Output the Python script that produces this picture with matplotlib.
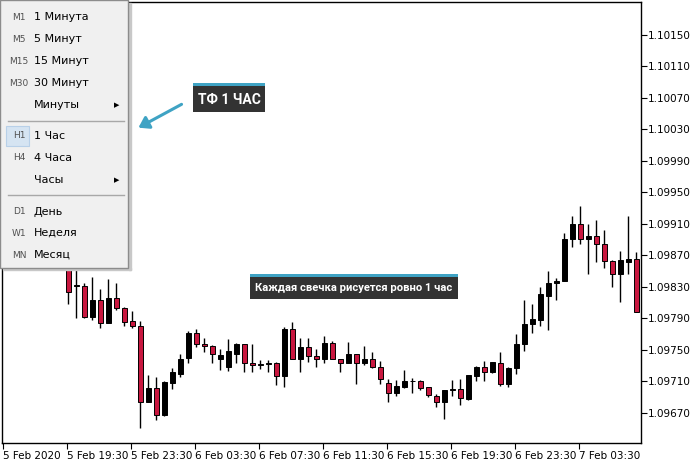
import matplotlib
matplotlib.use("Agg")
import matplotlib.pyplot as plt
from matplotlib.patches import Rectangle, FancyArrowPatch
import numpy as np

# hourly candles, index 8..79 (the first ones sit behind the menu)
first_idx = 8
opens = [1.09854, 1.09831, 1.09831, 1.09792, 1.09814, 1.09784, 1.09816, 1.09803, 1.09787, 1.09780,
         1.09684, 1.09702, 1.09667, 1.09708, 1.09720, 1.09740, 1.09772, 1.09758, 1.09755, 1.09739,
         1.09729, 1.09745, 1.09757, 1.09734, 1.09731, 1.09732, 1.09734, 1.09717, 1.09777, 1.09739,
         1.09754, 1.09742, 1.09738, 1.09759, 1.09739, 1.09734, 1.09745, 1.09734, 1.09739, 1.09728,
         1.09708, 1.09696, 1.09703, 1.09710, 1.09711, 1.09703, 1.09692, 1.09684, 1.09699, 1.09700,
         1.09688, 1.09717, 1.09728, 1.09722, 1.09734, 1.09707, 1.09727, 1.09757, 1.09783, 1.09788,
         1.09819, 1.09835, 1.09837, 1.09891, 1.09910, 1.09891, 1.09895, 1.09885, 1.09863, 1.09846,
         1.09862, 1.09866]
highs = [1.09862, 1.09857, 1.09835, 1.09843, 1.09827, 1.09840, 1.09835, 1.09805, 1.09800, 1.09787,
         1.09718, 1.09716, 1.09710, 1.09727, 1.09745, 1.09774, 1.09777, 1.09765, 1.09756, 1.09751,
         1.09764, 1.09759, 1.09758, 1.09757, 1.09737, 1.09737, 1.09735, 1.09779, 1.09785, 1.09765,
         1.09765, 1.09751, 1.09768, 1.09761, 1.09739, 1.09760, 1.09745, 1.09755, 1.09747, 1.09736,
         1.09713, 1.09712, 1.09725, 1.09715, 1.09712, 1.09703, 1.09694, 1.09699, 1.09712, 1.09713,
         1.09718, 1.09730, 1.09736, 1.09735, 1.09748, 1.09728, 1.09770, 1.09813, 1.09808, 1.09830,
         1.09850, 1.09841, 1.09899, 1.09920, 1.09933, 1.09910, 1.09915, 1.09902, 1.09864, 1.09876,
         1.09920, 1.09874]
lows = [1.09808, 1.09791, 1.09791, 1.09788, 1.09778, 1.09784, 1.09801, 1.09781, 1.09778, 1.09651,
        1.09684, 1.09661, 1.09666, 1.09701, 1.09716, 1.09734, 1.09754, 1.09748, 1.09733, 1.09724,
        1.09723, 1.09733, 1.09722, 1.09722, 1.09726, 1.09722, 1.09706, 1.09703, 1.09738, 1.09722,
        1.09735, 1.09729, 1.09734, 1.09739, 1.09722, 1.09733, 1.09707, 1.09731, 1.09727, 1.09707,
        1.09684, 1.09692, 1.09702, 1.09695, 1.09699, 1.09690, 1.09678, 1.09662, 1.09691, 1.09680,
        1.09687, 1.09710, 1.09710, 1.09721, 1.09704, 1.09703, 1.09719, 1.09749, 1.09771, 1.09780,
        1.09775, 1.09813, 1.09837, 1.09881, 1.09885, 1.09847, 1.09862, 1.09854, 1.09830, 1.09811,
        1.09847, 1.09798]
closes = [1.09824, 1.09832, 1.09792, 1.09814, 1.09784, 1.09816, 1.09803, 1.09786, 1.09780, 1.09684,
          1.09702, 1.09667, 1.09709, 1.09722, 1.09739, 1.09772, 1.09757, 1.09755, 1.09745, 1.09744,
          1.09749, 1.09757, 1.09734, 1.09731, 1.09732, 1.09734, 1.09717, 1.09777, 1.09738, 1.09754,
          1.09742, 1.09739, 1.09759, 1.09739, 1.09734, 1.09745, 1.09734, 1.09739, 1.09728, 1.09713,
          1.09696, 1.09704, 1.09711, 1.09711, 1.09702, 1.09693, 1.09684, 1.09699, 1.09700, 1.09689,
          1.09718, 1.09728, 1.09722, 1.09735, 1.09707, 1.09727, 1.09758, 1.09783, 1.09789, 1.09821,
          1.09835, 1.09838, 1.09891, 1.09910, 1.09891, 1.09895, 1.09885, 1.09863, 1.09847, 1.09864,
          1.09866, 1.09798]

price_ticks = [1.09670, 1.09710, 1.09750, 1.09790, 1.09830, 1.09870, 1.09910,
               1.09950, 1.09990, 1.10030, 1.10070, 1.10110, 1.10150]
time_labels = ["5 Feb 2020", "5 Feb 19:30", "5 Feb 23:30", "6 Feb 03:30", "6 Feb 07:30",
               "6 Feb 11:30", "6 Feb 15:30", "6 Feb 19:30", "6 Feb 23:30", "7 Feb 03:30"]
bars_per_label = 8

menu_codes = ["M1", "M5", "M15", "M30", "", "H1", "H4", "", "D1", "W1", "MN"]
menu_items = ["1 Минута", "5 Минут", "15 Минут", "30 Минут", "Минуты",
              "1 Час", "4 Часа", "Часы", "День", "Неделя", "Месяц"]

BULL = "#000000"
BEAR = "#c8173f"
TEAL = "#3fa3c4"
W, H = 690, 463
CALLOUT_FONT = ["Roboto", "DejaVu Sans"]

fig = plt.figure(figsize=(W / 100, H / 100), dpi=100)
ax = fig.add_axes([2 / W, (H - 443) / H, (641 - 2) / W, (443 - 2) / H])

o = np.array(opens)
c = np.array(closes)
idx = np.arange(first_idx, first_idx + len(o))
up = c >= o
colors = np.where(up, BULL, BEAR)

ax.vlines(idx, lows, highs, color="black", linewidth=1, zorder=2)
bottoms = np.minimum(o, c)
heights = np.maximum(np.abs(c - o), 0.00001)
ax.bar(idx, heights, bottom=bottoms, width=0.6, color=colors,
       edgecolor="black", linewidth=0.7, zorder=3)

ax.set_xlim(-0.29, 79.6)
ax.set_ylim(1.096319, 1.101919)

ax.yaxis.tick_right()
ax.set_yticks(price_ticks)
ax.set_yticklabels([f"{p:.5f}" for p in price_ticks])
ax.tick_params(axis="y", direction="out", length=4, width=0.8, pad=1, labelsize=7.5)

tick_pos = [bars_per_label * j - 0.2 for j in range(len(time_labels))]
ax.set_xticks(tick_pos)
ax.set_xticklabels(time_labels, ha="left")
ax.tick_params(axis="x", direction="out", length=4, width=0.8, pad=2, labelsize=7.5)

for s in ax.spines.values():
    s.set_linewidth(1)
    s.set_color("black")

# overlay in pixel coordinates for the menu and callouts
ov = fig.add_axes([0, 0, 1, 1], zorder=10)
ov.set_xlim(0, W)
ov.set_ylim(H, 0)
ov.axis("off")
ov.patch.set_alpha(0)

# timeframe menu
ov.add_patch(Rectangle((129, 3), 2, 267, color="#c8c8c8", zorder=1))
ov.add_patch(Rectangle((3, 268), 128, 2, color="#c8c8c8", zorder=1))
ov.add_patch(Rectangle((0, 0), 128, 268, facecolor="#f0f0f0",
                       edgecolor="#8c8c8c", linewidth=1, zorder=2))

row_y = [17, 39, 61, 83, 105, 136, 158, 180, 212, 233, 255]
for code, item, y in zip(menu_codes, menu_items, row_y):
    if code == "H1":
        ov.add_patch(Rectangle((6, y - 10), 23, 20, facecolor="#d5e4f2",
                               edgecolor="#b8d0e8", linewidth=0.8, zorder=3))
    if code:
        ov.text(19, y, code, fontsize=6.5, color="#505050", ha="center",
                va="center", zorder=4)
    ov.text(34, y, item, fontsize=8, color="black", ha="left", va="center", zorder=4)
    if item in ("Минуты", "Часы"):
        ov.text(117, y, "▶", fontsize=5, color="black", ha="center",
                va="center", zorder=4)
for y in (121, 195):
    ov.plot([8, 124], [y, y], color="#a8a8a8", linewidth=1, zorder=3)

# callout: timeframe
ov.add_patch(Rectangle((193, 86), 72, 26, facecolor="#333333", zorder=3))
ov.add_patch(Rectangle((193, 83), 72, 3, facecolor=TEAL, zorder=3))
ov.text(229, 99.5, "ТФ 1 ЧАС", color="white", fontsize=10, fontweight="bold",
        ha="center", va="center", family=CALLOUT_FONT, zorder=4)
ov.add_patch(FancyArrowPatch((184, 103), (136, 129), arrowstyle="-|>,head_length=6,head_width=4",
                             color=TEAL, linewidth=2.2, zorder=4))

# callout: each candle
ov.add_patch(Rectangle((250, 277), 208, 22, facecolor="#333333", zorder=3))
ov.add_patch(Rectangle((250, 274), 208, 3, facecolor=TEAL, zorder=3))
ov.text(354, 288, "Каждая свечка рисуется ровно 1 час", color="white", fontsize=8.1,
        fontweight="bold", ha="center", va="center", family=CALLOUT_FONT, zorder=4)

fig.savefig("out.png", dpi=100)
